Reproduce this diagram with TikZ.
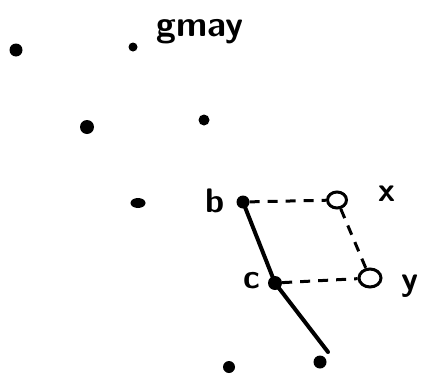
\documentclass[tikz,border=0pt]{standalone}
\usepackage{tikz}
\usetikzlibrary{shapes.geometric, arrows.meta, positioning}
\tikzset{
    dotnode/.style={circle, fill=black, inner sep=0pt, minimum size=13pt},
    smalldot/.style={dotnode, minimum size=9pt},
    hollow/.style={draw, ellipse, line width=3pt, inner sep=0pt, minimum width=19pt, minimum height=16pt},
    solidline/.style={line width=4pt, line cap=round},
    dashline/.style={line width=3pt, dash pattern=on 10pt off 8pt},
    hand/.style={font=\fontsize{34}{34}\selectfont\sffamily\bfseries, inner sep=0pt},
}

\begin{document}
\begin{tikzpicture}[x=1pt, y=-1pt]
    \useasboundingbox (0,0) rectangle (423,375);

    % Title
    \node[hand, anchor=base, font=\fontsize{36}{36}\selectfont\sffamily\bfseries] (title) at (200,36) {gmay};

    % Lattice points
    \node[dotnode] (p1) at (16,50) {};
    \node[smalldot] (p2) at (133,47) {};
    \node[dotnode, minimum size=14pt] (p3) at (87,127) {};
    \node[smalldot, minimum size=11pt] (p4) at (204,120) {};
    \node[dotnode, ellipse, minimum width=15pt, minimum height=10pt] (p5) at (138,203) {};
    \node[dotnode, minimum size=12pt] (p6) at (229,367) {};
    \node[dotnode, minimum size=13pt] (p7) at (320,362) {};

    % Points b and c
    \node[dotnode] (b) at (243,202) {};
    \node[dotnode, minimum size=14pt] (c) at (275,283) {};
    \node[hand, anchor=base] (blabel) at (215,212) {b};
    \node[hand, anchor=base] (clabel) at (252,288) {c};

    % Hollow points x and y
    \node[hollow] (xo) at (337,200) {};
    \node[hollow, minimum width=22pt, minimum height=18pt] (yo) at (370,278) {};
    \node[hand, anchor=base] (xlabel) at (387,201) {x};
    \node[hand, anchor=base] (ylabel) at (410,290) {y};

    % Line through b and c
    \coordinate (tail) at (328,352);
    \draw[solidline] (b.center) -- (c.center) -- (tail);

    % Dashed connectors
    \draw[dashline] (b) -- (xo);
    \draw[dashline] (xo) -- (yo);
    \draw[dashline] (c) -- (yo);
\end{tikzpicture}
\end{document}
